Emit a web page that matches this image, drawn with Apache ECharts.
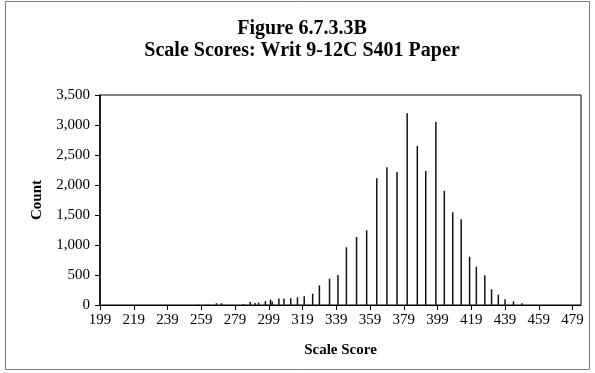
<!DOCTYPE html>
<html>
<head>
<meta charset="utf-8">
<script src="https://cdn.jsdelivr.net/npm/echarts@6/dist/echarts.min.js"></script>
<style>
html,body{margin:0;padding:0;background:#fff;}
#chart{width:595px;height:373px;}
</style>
</head>
<body>
<div id="chart"></div>
<script>
// Scale score range (category axis)
var firstScore = 199;
var lastScore = 484;
// Observed scale scores and their counts
var scores = [257, 263, 268, 271, 284, 288, 291, 293, 297, 300, 301, 305, 308, 312, 316, 320, 325, 329, 335, 340, 345, 351, 357, 363, 369, 375, 381, 387, 392, 398, 403, 408, 413, 418, 422, 427, 431, 435, 439, 444, 449];
var counts = [8, 10, 30, 28, 18, 50, 30, 40, 65, 90, 60, 110, 110, 112, 128, 145, 188, 328, 438, 500, 962, 1133, 1245, 2112, 2295, 2217, 3195, 2650, 2233, 3050, 1905, 1545, 1428, 805, 638, 495, 262, 172, 95, 62, 28];
var yTicks = [0, 500, 1000, 1500, 2000, 2500, 3000, 3500];

var categories = [];
for (var s = firstScore; s <= lastScore; s++) categories.push(String(s));
var values = categories.map(function () { return null; });
scores.forEach(function (sc, i) { values[sc - firstScore] = counts[i]; });

var serif = '"Liberation Serif", "Times New Roman", serif';
var chart = echarts.init(document.getElementById('chart'), null, {renderer: 'canvas'});
chart.setOption({
  animation: false,
  backgroundColor: '#fff',
  title: {
    text: 'Figure 6.7.3.3B\nScale Scores: Writ 9-12C S401 Paper',
    left: 297, textAlign: 'center', top: 13,
    textStyle: {fontFamily: serif, fontWeight: 'bold', fontSize: 20, lineHeight: 22, color: '#000'}
  },
  graphic: [{
    type: 'rect', shape: {x: 5.5, y: 1.5, width: 584, height: 368},
    style: {fill: null, stroke: '#808080', lineWidth: 1}, silent: true
  }],
  grid: {left: 100, right: 14, top: 95, bottom: 68, show: true, borderColor: '#000', borderWidth: 1, backgroundColor: 'transparent'},
  xAxis: {
    type: 'category', data: categories, boundaryGap: false,
    name: 'Scale Score', nameLocation: 'middle', nameGap: 38,
    nameTextStyle: {fontFamily: serif, fontWeight: 'bold', fontSize: 15, color: '#000'},
    axisLine: {lineStyle: {color: '#000', width: 1}},
    axisTick: {interval: 19, length: 5, inside: false, lineStyle: {color: '#000'}},
    axisLabel: {interval: 19, fontFamily: serif, fontSize: 15, color: '#000', margin: 8},
    splitLine: {show: false}
  },
  yAxis: {
    type: 'value', min: 0, max: 3500, interval: 500,
    name: 'Count', nameLocation: 'middle', nameGap: 55, nameRotate: 90,
    nameTextStyle: {fontFamily: serif, fontWeight: 'bold', fontSize: 15, color: '#000'},
    axisLine: {show: true, lineStyle: {color: '#000', width: 1.5}},
    axisTick: {show: true, length: 5, lineStyle: {color: '#000'}},
    axisLabel: {fontFamily: serif, fontSize: 15, color: '#000', margin: 10,
      formatter: function (v) { return v.toLocaleString('en-US'); }},
    splitLine: {show: false}
  },
  series: [{
    type: 'bar', data: values, barWidth: 1.5,
    itemStyle: {color: '#111'}
  }]
});
</script>
</body>
</html>
